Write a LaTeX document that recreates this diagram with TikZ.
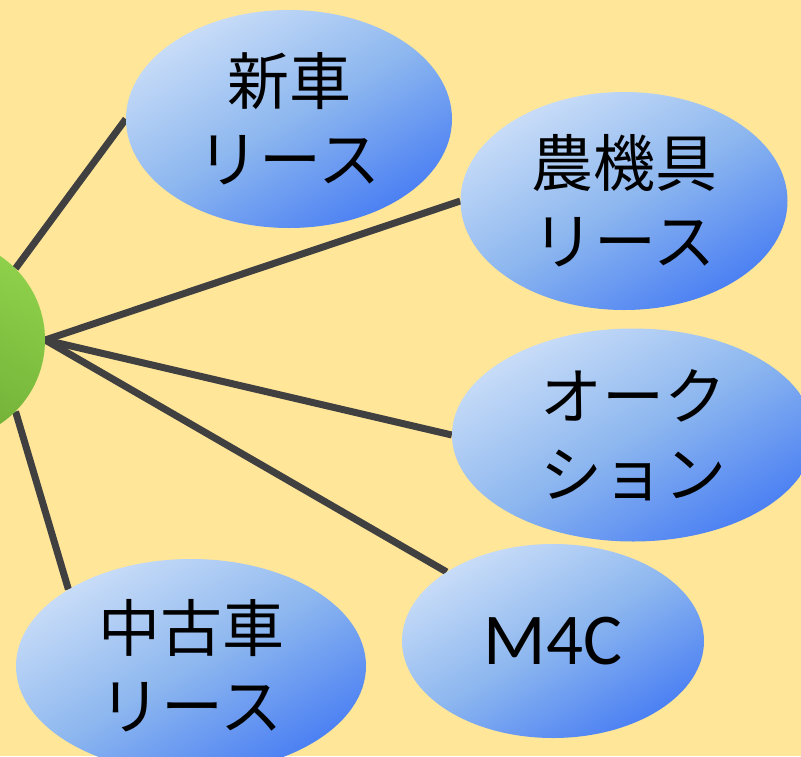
\documentclass[tikz,border=0pt]{standalone}
\usepackage{fontspec}
\usetikzlibrary{shapes.geometric}
\newfontfamily\jpfont{Noto Sans CJK JP}
\newfontfamily\latinfont{Carlito}
\definecolor{paper}{HTML}{FFE699}
\definecolor{bluelight}{HTML}{C9DDF8}
\definecolor{bluemid}{HTML}{8DB7EF}
\definecolor{bluedark}{HTML}{4A7FF3}
\definecolor{greenlight}{HTML}{8ED04A}
\definecolor{greendark}{HTML}{6AA832}
\definecolor{spoke}{HTML}{404040}
\pgfdeclarelayer{bg}
\pgfsetlayers{bg,main}
\begin{document}
\begin{tikzpicture}[x=1pt,y=-1pt,
  item/.style={ellipse,inner sep=0pt,top color=bluelight,bottom color=bluedark,middle color=bluemid,shading angle=30,align=center,font=\jpfont\fontsize{62}{78}\selectfont},
  spokeline/.style={spoke,line width=7pt}]
\useasboundingbox (0,0) rectangle (801,756);
\begin{pgfonlayer}{bg}
\fill[paper] (0,0) rectangle (801,756);
\end{pgfonlayer}
\node[item,minimum width=326pt,minimum height=218pt] (shinsha) at(289,119) {新車\\リース};
\node[item,minimum width=327pt,minimum height=218pt] (noki) at(624,201) {農機具\\リース};
\node[item,minimum width=362pt,minimum height=213pt] (auction) at(633,435) {オーク\\ション};
\node[item,minimum width=302pt,minimum height=194pt,font=\latinfont\fontsize{73}{86}\selectfont] (mfc) at(553,641) {M4C};
\node[item,minimum width=350pt,minimum height=214pt] (chuko) at(191,666) {中古車\\リース};
\node[circle,inner sep=0pt,minimum size=202pt,top color=greenlight,bottom color=greendark,shading angle=-30] (hub) at(-56,340) {};
\begin{pgfonlayer}{bg}
\draw[spokeline] (hub.45) -- (shinsha.west);
\draw[spokeline] (hub.east) -- (noki.west);
\draw[spokeline] (hub.east) -- (auction.west);
\draw[spokeline] (hub.east) -- (mfc.147);
\draw[spokeline] (hub.-45) -- (chuko.148);
\end{pgfonlayer}
\end{tikzpicture}
\end{document}
